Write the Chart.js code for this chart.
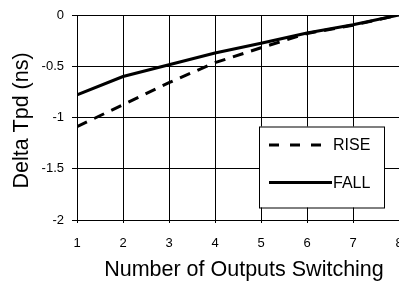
<!DOCTYPE html>
<html>
<head>
<meta charset="utf-8">
<script src="https://cdn.jsdelivr.net/npm/chart.js@4/dist/chart.umd.min.js"></script>
<style>
html,body{margin:0;padding:0;background:#fff;}
#wrap{width:399px;height:285px;}
</style>
</head>
<body>
<div id="wrap"><canvas id="c" width="399" height="285"></canvas></div>
<script>
const outputsSwitching = [1, 2, 3, 4, 5, 6, 7, 8];
const riseDelta = [-1.09, -0.875, -0.66, -0.465, -0.32, -0.18, -0.10, 0];
const fallDelta = [-0.78, -0.60, -0.485, -0.37, -0.275, -0.175, -0.095, 0];
const seriesNames = ['RISE', 'FALL'];
const xTitle = '\u00a0\u00a0Number of Outputs Switching';
const yTitle = 'Delta Tpd (ns)\u00a0';

const FONT = "'Liberation Sans', Arial, sans-serif";

const toPoints = (vals) => vals.map((v, i) => ({x: outputsSwitching[i], y: v}));

const boxLegend = {
  id: 'boxLegend',
  afterDraw(chart) {
    const ctx = chart.ctx;
    const ca = chart.chartArea;
    const bx = ca.right - 140, by = ca.top + 111.5, bw = 125, bh = 81;
    ctx.save();
    ctx.fillStyle = '#fff';
    ctx.fillRect(bx, by, bw, bh);
    ctx.strokeStyle = '#000';
    ctx.lineWidth = 1;
    ctx.strokeRect(bx + 0.5, by + 0.5, bw, bh);
    const rows = [18.5, 56];
    chart.data.datasets.forEach((ds, i) => {
      const y = by + rows[i];
      ctx.beginPath();
      ctx.lineWidth = 3;
      ctx.strokeStyle = '#000';
      if (ds.borderDash && ds.borderDash.length) {
        ctx.setLineDash([10, 11]);
        ctx.moveTo(bx + 10, y);
        ctx.lineTo(bx + 64, y);
      } else {
        ctx.setLineDash([]);
        ctx.moveTo(bx + 10, y);
        ctx.lineTo(bx + 73, y);
      }
      ctx.stroke();
      ctx.setLineDash([]);
      ctx.fillStyle = '#000';
      ctx.font = '16px ' + FONT;
      ctx.textBaseline = 'middle';
      ctx.textAlign = 'left';
      ctx.fillText(ds.label, bx + 74, y + 1);
    });
    ctx.restore();
  }
};

new Chart(document.getElementById('c'), {
  type: 'line',
  data: {
    datasets: [
      {label: seriesNames[0], data: toPoints(riseDelta), borderColor: '#000', borderWidth: 3, borderDash: [11, 8], pointRadius: 0, fill: false, tension: 0},
      {label: seriesNames[1], data: toPoints(fallDelta), borderColor: '#000', borderWidth: 3, pointRadius: 0, fill: false, tension: 0}
    ]
  },
  options: {
    responsive: false,
    animation: false,
    devicePixelRatio: 1,
    layout: {padding: {top: 15, left: 0, right: 0, bottom: 0}},
    plugins: {legend: {display: false}, tooltip: {enabled: false}},
    scales: {
      x: {
        type: 'linear', min: 1, max: 8,
        ticks: {stepSize: 1, color: '#000', font: {family: FONT, size: 13}, padding: 13, maxRotation: 0},
        grid: {color: '#000', lineWidth: 1, tickLength: 3},
        border: {color: '#000', width: 1},
        title: {display: true, text: xTitle, color: '#000', font: {family: FONT, size: 21.5}, padding: {top: 0, bottom: 2}},
        afterFit(s) { s.height = 65; s.paddingLeft = 0; s.paddingRight = 0; }
      },
      y: {
        min: -2, max: 0,
        ticks: {stepSize: 0.5, color: '#000', font: {family: FONT, size: 13}, padding: 8,
          callback: (v) => String(Math.round(v * 10) / 10)},
        grid: {color: '#000', lineWidth: 1, tickLength: 5},
        border: {color: '#000', width: 1},
        title: {display: true, text: yTitle, color: '#000', font: {family: FONT, size: 21.5}, padding: {top: 9, bottom: 0}},
        afterFit(s) { s.width = 77; s.paddingTop = 0; s.paddingBottom = 0; }
      }
    }
  },
  plugins: [boxLegend]
});
</script>
</body>
</html>
